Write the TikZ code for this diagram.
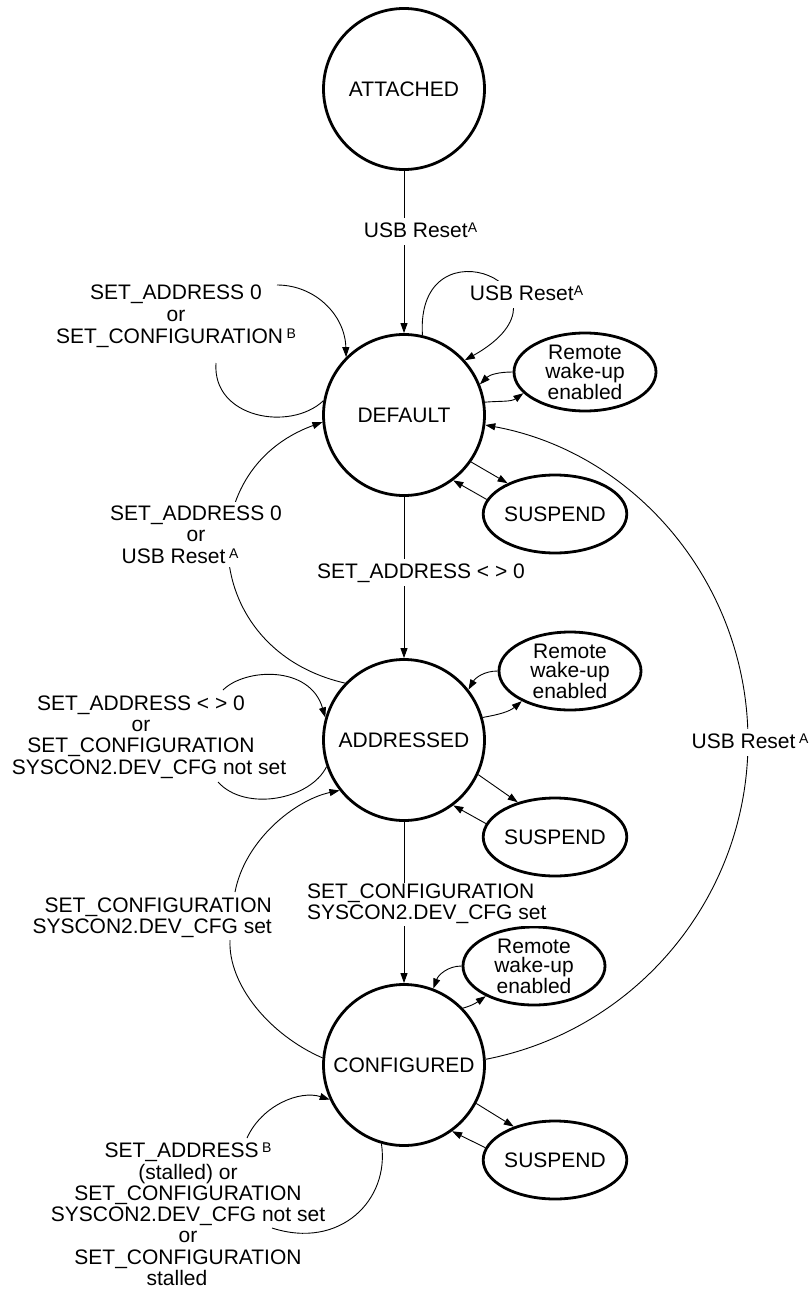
\documentclass[tikz,border=0pt]{standalone}
\usepackage{fontspec}
\setmainfont{Liberation Sans}
\usetikzlibrary{shapes.geometric,arrows.meta}
\newcommand\lblfont{\fontsize{21}{21.3}\selectfont}
\newcommand\remfont{\fontsize{21}{19.5}\selectfont}
\newcommand\mysup[1]{\raisebox{5pt}{\fontsize{14}{14}\selectfont #1}}
\begin{document}
\begin{tikzpicture}[x=1pt,y=1pt,
  state/.style={circle,draw,line width=2.8pt,minimum size=161pt,inner sep=0pt,font=\lblfont},
  sub/.style={ellipse,draw,line width=2.8pt,minimum width=142pt,minimum height=78pt,inner sep=0pt,align=center,font=\remfont},
  lab/.style={inner sep=1pt,align=center,font=\lblfont},
  wlab/.style={lab,fill=white,inner ysep=4pt},
  wlabone/.style={wlab,anchor=base,text depth=4pt},
  conn/.style={line width=0.9pt},
  arr/.style={conn,-{Triangle[length=10pt,width=7pt]}}]
\useasboundingbox (0,0) rectangle (810,-1289);

% states
\node[state] (att)  at (404,-89)   {ATTACHED};
\node[state] (def)  at (404,-415)  {DEFAULT};
\node[state] (addr) at (404,-740)  {ADDRESSED};
\node[state] (conf) at (404,-1065) {CONFIGURED};

% remote wake-up and suspend
\node[sub] (rd) at (585,-372)  {Remote\\wake-up\\enabled};
\node[sub] (sd) at (555,-514)  {SUSPEND};
\node[sub] (ra) at (570,-671)  {Remote\\wake-up\\enabled};
\node[sub] (sa) at (555,-837)  {SUSPEND};
\node[sub] (rc) at (534,-966)  {Remote\\wake-up\\enabled};
\node[sub] (sc) at (555,-1160) {SUSPEND};

% free ends of broken loops
\coordinate (c1e) at (216,-363);
\coordinate (c2s) at (277,-285);
\coordinate (f1s) at (223,-690);
\coordinate (f2e) at (218,-782);
\coordinate (g1e) at (230,-940);
\coordinate (g2s) at (235,-892);
\coordinate (h1s) at (247,-1138);
\coordinate (h2e) at (272,-1228);
\coordinate (rmid) at (748,-741);

% main vertical transitions
\draw[arr] (att) -- (def);
\draw[arr] (def) -- (addr);
\draw[arr] (addr) -- (conf);

% DEFAULT self loops
\draw[arr] (def.77) .. controls (415,-215) and (590,-290) .. (def.42);
\draw[conn] (def.170) .. controls (290,-432) and (212,-418) .. (c1e);
\draw[arr] (c2s) .. controls (315,-285) and (345,-315) .. (def.135);

% ADDRESSED -> DEFAULT
\draw[arr] (addr.136) .. controls (200,-650) and (190,-470) .. (def.185);

% ADDRESSED self loop
\draw[arr] (f1s) .. controls (245,-668) and (310,-665) .. (addr.164);
\draw[conn] (addr.199) .. controls (310,-800) and (245,-812) .. (f2e);

% CONFIGURED -> ADDRESSED
\draw[conn] (conf.175) .. controls (270,-1035) and (228,-985) .. (g1e);
\draw[arr] (g2s) .. controls (245,-840) and (295,-800) .. (addr.218);

% CONFIGURED self loop
\draw[arr] (h1s) .. controls (262,-1105) and (300,-1090) .. (conf.205);
\draw[conn] (conf.254) .. controls (390,-1200) and (340,-1250) .. (h2e);

% CONFIGURED -> DEFAULT (USB Reset)
\draw[arr] (conf.4) .. controls (637.8,-1029.9) and (748,-895.6) .. (rmid)
  .. controls (748,-586.4) and (637.8,-453.1) .. (def.-7);

% remote wake-up / suspend arrows
\draw[arr] (rd.west) to[out=180,in=45] (def.22);
\draw[arr] (def.9) to[out=5,in=215] (rd.199);
\draw[arr] (def.-35) -- (sd.147);
\draw[arr] (sd.168) -- (def.-53);
\draw[arr] (ra.west) to[out=180,in=60] (addr.38);
\draw[arr] (addr.16) to[out=10,in=220] (ra.212);
\draw[arr] (addr.-25) -- (sa.137);
\draw[arr] (sa.169) -- (addr.-53);
\draw[arr] (rc.west) to[out=180,in=70] (conf.69);
\draw[arr] (conf.44) to[out=15,in=215] (rc.212);
\draw[arr] (conf.-28) -- (sc.141);
\draw[arr] (sc.170) -- (conf.-54);

% labels
\node[wlabone] (l1) at (420.5,-237) {USB Reset\mysup{A}};
\node[wlabone] (l2) at (526.5,-300) {USB Reset\mysup{A}};
\node[lab,font=\fontsize{21}{22}\selectfont] (l3) at (176,-316.7)
  {SET\_ADDRESS 0\\or\hspace*{18pt}\\SET\_CONFIGURATION\,\mysup{B}};
\node[wlabone] (l4) at (421,-578) {SET\_ADDRESS < > 0};
\node[wlab,font=\fontsize{21}{21.5}\selectfont] (l5) at (196,-534.5)
  {SET\_ADDRESS 0\\or\hspace*{22pt}\\USB Reset\,\mysup{A}\hspace*{32pt}};
\node[lab] (l6) at (141,-737)
  {SET\_ADDRESS < > 0\\or\hspace*{38pt}\\SET\_CONFIGURATION\hspace*{7pt}\\SYSCON2.DEV\_CFG not set\hspace*{-16pt}};
\node[wlab,inner ysep=1.5pt,align=left,anchor=west,font=\fontsize{21}{21}\selectfont] (l7) at (306,-904.2)
  {SET\_CONFIGURATION\\SYSCON2.DEV\_CFG set};
\node[lab,align=right,anchor=east,font=\fontsize{21}{21}\selectfont] (l8) at (273,-917.7)
  {SET\_CONFIGURATION\\SYSCON2.DEV\_CFG set};
\node[lab] (l9) at (188,-1214.4)
  {SET\_ADDRESS\,\mysup{B}\\(stalled) or\\SET\_CONFIGURATION\\SYSCON2.DEV\_CFG not set\hspace*{-20pt}\\or\hspace*{28pt}\\SET\_CONFIGURATION\\stalled\hspace*{22pt}};
\node[wlabone] (l10) at (750,-748) {USB Reset\,\mysup{A}};
\end{tikzpicture}
\end{document}
